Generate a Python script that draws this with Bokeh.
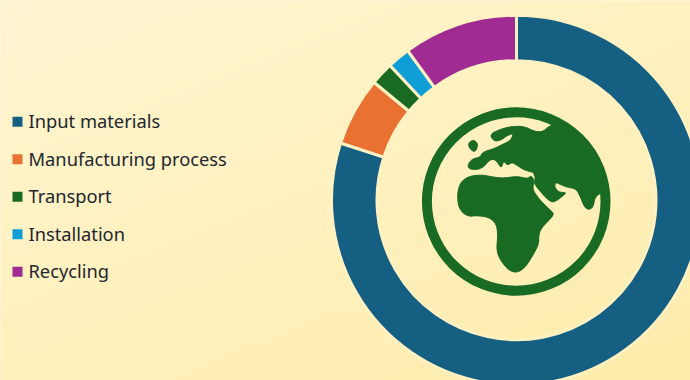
import numpy as np
from math import pi
from bokeh.core.properties import value
from bokeh.embed import file_html
from bokeh.models import ColumnDataSource, Range1d
from bokeh.plotting import figure
from bokeh.resources import INLINE

W, H = 690, 380

categories = ["Input materials", "Manufacturing process", "Transport", "Installation", "Recycling"]
shares = [80, 6, 2, 2, 10]
colors = ["#156082", "#E97132", "#196B24", "#0F9ED5", "#A02B93"]

CREAM = "#FFF1C2"
GREEN = "#196B24"
INK = "#22262F"

# Outlines of the globe icon, in page pixels
eurasia = [
    (489.3, 134), (498.3, 129.3), (510, 126), (523.3, 125.7), (533.3, 130.7), (541.7, 131.7),
    (549.3, 125), (563, 122), (580, 132), (598, 155), (604, 190), (604, 193), (599.3, 192.7),
    (594.3, 197.3), (592.7, 206.7), (588.3, 209.3), (584, 206.7), (580, 196.7), (575.7, 188.3),
    (566.7, 186.7), (560, 184), (555, 181.7), (554, 186.7), (558.3, 191.7), (565, 192), (565, 193.3),
    (553.3, 202.3), (548.3, 200), (541.7, 193.3), (533.3, 182.7), (535, 178), (533, 172), (531.7, 171.7),
    (523.3, 169.3), (516.7, 165), (511.7, 161.7), (506.7, 165), (503.3, 160), (500.7, 168.3),
    (496, 160), (490, 158.3), (481.7, 168.3), (470, 169.3), (466.7, 165), (471.7, 158.3), (480, 156.7),
    (481.7, 151.7), (493.3, 148.3), (503.3, 143.3), (510, 140), (513.3, 132.7), (506.7, 135),
    (500, 140), (493.3, 140.7),
]
africa = [
    (456.7, 193.3), (460, 181.7), (468.3, 175.7), (481.7, 174.3), (493.3, 176.7), (503.3, 177.7),
    (516.7, 175.7), (526.7, 178.3), (531, 175), (534, 181), (531.7, 188.3), (538.3, 198.3), (548.3, 208.3),
    (554, 213.3), (548.3, 220), (541.7, 226.7), (538.3, 233.3), (538.3, 243.3), (533.3, 253.3),
    (525, 266.7), (516.7, 272.3), (508.3, 270), (500, 260), (496, 250), (497.3, 235), (496, 223.3),
    (488.3, 216.7), (476.7, 215), (466.7, 216), (458.3, 208.3),
]
britain = [(467.3, 143.3), (472.7, 139), (477.7, 143.3), (475, 151.7), (470, 149.3)]


def rounded(points, passes=2):
    """Chaikin corner cutting, which softens a closed outline."""
    pts = np.array(points, dtype=float)
    for _ in range(passes):
        nxt = np.roll(pts, -1, axis=0)
        pts = np.column_stack([0.75 * pts + 0.25 * nxt, 0.25 * pts + 0.75 * nxt]).reshape(-1, 2)
    return pts[:, 0].tolist(), (H - pts[:, 1]).tolist()


p = figure(width=W, height=H, output_backend="svg", toolbar_location=None,
           x_range=Range1d(0, W), y_range=Range1d(0, H), min_border=0)
p.axis.visible = False
p.grid.visible = False
p.outline_line_color = None
p.background_fill_color = CREAM
p.border_fill_color = CREAM

# Diagonal wash behind everything
ny, nx = 190, 345
yy, xx = np.mgrid[0:ny, 0:nx]
t = (xx / (nx - 1) * 0.42 + (1 - yy / (ny - 1)) * 0.58)
start, end = np.array([255, 245, 210]), np.array([255, 237, 172])
rgb = start + (end - start) * t[..., None]
img = np.zeros((ny, nx), dtype=np.uint32)
view = img.view(dtype=np.uint8).reshape((ny, nx, 4))
view[..., :3] = rgb.astype(np.uint8)
view[..., 3] = 255
p.image_rgba(image=[img], x=0, y=0, dw=W, dh=H)

# Donut, clockwise from twelve o'clock
cx, cy = 516, H - 200
fractions = np.array(shares) / sum(shares)
cum = np.concatenate([[0], np.cumsum(fractions)])
donut = ColumnDataSource(dict(
    start=(pi / 2 - 2 * pi * cum[1:]).tolist(),
    end=(pi / 2 - 2 * pi * cum[:-1]).tolist(),
    color=colors,
))
p.annular_wedge(x=cx, y=cy + 0.3, inner_radius=139.5, outer_radius=185, start_angle="start", end_angle="end",
                fill_color="color", line_color=CREAM, line_width=3, source=donut)

# Globe icon
p.circle(x=515.7, y=H - 201, radius=89.3, fill_color=None, line_color=GREEN, line_width=10,
         radius_units="data")
for outline in (eurasia, africa, britain):
    xs, ys = rounded(outline)
    p.patch(xs, ys, fill_color=GREEN, line_color=GREEN, line_width=1, line_join="round")

# Legend
step = 37.5
rows = range(len(categories))
legend = ColumnDataSource(dict(
    x=[17] * len(categories),
    tx=[28] * len(categories),
    y=[H - (121.2 + step * i) for i in rows],
    ty=[H - (120.3 + step * i) for i in rows],
    name=categories,
    color=colors,
))
p.scatter(x="x", y="y", marker="square", size=10, fill_color="color", line_color=None, source=legend)
p.text(x="tx", y="ty", text="name", text_font=value("Noto Sans"), text_font_size="18.3px",
       text_color=INK, text_baseline="middle", text_align="left", source=legend)

open("out.html", "w").write(file_html(p, INLINE))
